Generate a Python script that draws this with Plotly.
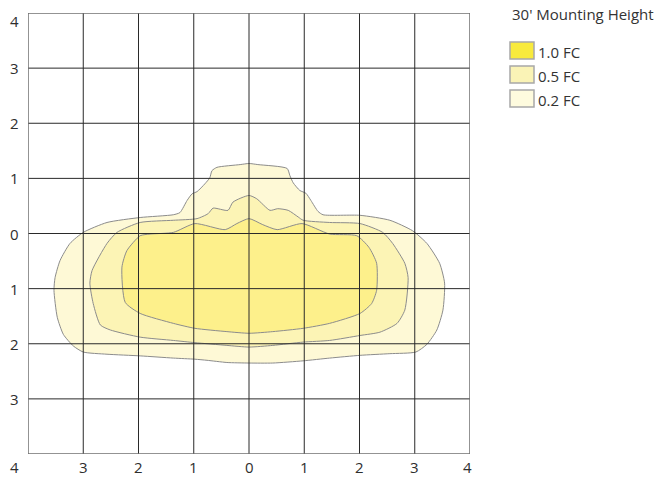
import plotly.graph_objects as go

# ---- data ----
grid_vals = [-4, -3, -2, -1, 0, 1, 2, 3, 4]
tick_text = ["4", "3", "2", "1", "0", "1", "2", "3", "4"]

levels = ["0.2 FC", "0.5 FC", "1.0 FC"]

outer_x = [0.0, 0.16, 0.69, 0.74, 0.80, 0.92, 1.03, 1.12, 1.25, 1.34, 2.01, 2.55, 2.96, 3.22, 3.45, 3.54,
           3.51, 3.40, 3.22, 3.02, 2.55, 2.01, 1.46, 0.98, 0.43, 0.0, -0.40, -0.76, -0.98, -1.37, -1.97,
           -2.57, -3.00, -3.18, -3.36, -3.47, -3.53, -3.51, -3.42, -3.24, -3.00, -2.57, -1.97, -1.37,
           -1.25, -1.12, -1.03, -0.94, -0.80, -0.71, -0.67, -0.58, -0.16, 0.0]
outer_y = [1.27, 1.25, 1.18, 1.05, 0.92, 0.78, 0.73, 0.60, 0.40, 0.34, 0.33, 0.24, 0.05, -0.18, -0.54, -0.90,
           -1.39, -1.75, -2.01, -2.15, -2.18, -2.21, -2.26, -2.31, -2.35, -2.35, -2.34, -2.30, -2.28, -2.26,
           -2.22, -2.19, -2.15, -2.04, -1.83, -1.52, -1.03, -0.80, -0.49, -0.18, 0.02, 0.20, 0.29, 0.34,
           0.38, 0.60, 0.72, 0.76, 0.90, 1.01, 1.14, 1.20, 1.25, 1.27]

mid_x = [0.0, 0.14, 0.38, 0.52, 0.71, 0.89, 0.98, 1.46, 2.01, 2.42, 2.60, 2.82, 2.88, 2.82, 2.68, 2.37,
         2.01, 1.46, 0.98, 0.43, 0.0, -0.40, -0.98, -1.37, -1.97, -2.51, -2.69, -2.82, -2.88, -2.84,
         -2.57, -2.39, -1.97, -1.37, -0.94, -0.74, -0.65, -0.38, -0.29, 0.0]
mid_y = [0.69, 0.63, 0.42, 0.45, 0.42, 0.30, 0.24, 0.20, 0.18, 0.02, -0.18, -0.54, -0.80, -1.39, -1.63,
         -1.79, -1.85, -1.94, -1.97, -2.03, -2.06, -2.03, -1.98, -1.94, -1.88, -1.75, -1.66, -1.27, -0.90,
         -0.67, -0.18, 0.02, 0.20, 0.24, 0.27, 0.36, 0.46, 0.42, 0.57, 0.69]

inner_x = [0.0, 0.25, 0.51, 0.96, 1.46, 1.95, 2.17, 2.31, 2.31, 2.22, 2.01, 1.46, 0.98, 0.43, 0.0, -0.40,
           -0.98, -1.37, -1.97, -2.24, -2.30, -2.21, -1.97, -1.79, -1.37, -0.98, -0.43, -0.22, 0.0]
inner_y = [0.27, 0.16, 0.07, 0.18, -0.01, -0.04, -0.25, -0.54, -1.03, -1.27, -1.45, -1.63, -1.72, -1.78,
           -1.81, -1.78, -1.72, -1.63, -1.45, -1.25, -0.61, -0.31, -0.04, -0.01, 0.02, 0.18, 0.07, 0.18, 0.27]

fill_colors = ["#FEF9D6", "#FCF4B5", "#FDF08B"]
swatch_colors = ["#F8EA3C", "#FAF3B6", "#FEFBDE"]
legend_labels = ["1.0 FC", "0.5 FC", "0.2 FC"]
title_text = "30' Mounting Height"

FONT = "Open Sans"
W, H = 666, 477
L, R, T, B = 28, 196, 13, 23
PW, PH = W - L - R, H - T - B


def px_x(p):  # page pixel -> paper x
    return (p - L) / PW


def px_y(p):  # page pixel -> paper y
    return (H - B - p) / PH


fig = go.Figure()
for xs, ys, col, name in zip([outer_x, mid_x, inner_x], [outer_y, mid_y, inner_y], fill_colors, levels):
    fig.add_trace(go.Scatter(x=xs, y=ys, mode="lines", fill="toself", fillcolor=col, name=name,
                             line=dict(color="#8c8c8c", width=1, shape="spline", smoothing=0.6),
                             hoverinfo="skip", showlegend=False))

shapes = []
for v in grid_vals[1:-1]:
    shapes.append(dict(type="line", xref="x", yref="y", x0=v, x1=v, y0=-4, y1=4,
                       line=dict(color="#2a2a2a", width=1), layer="above"))
    shapes.append(dict(type="line", xref="x", yref="y", x0=-4, x1=4, y0=v, y1=v,
                       line=dict(color="#2a2a2a", width=1), layer="above"))
shapes.append(dict(type="rect", xref="x", yref="y", x0=-4, x1=4, y0=-4, y1=4,
                   line=dict(color="#707070", width=1.5), layer="above"))

tick_font = dict(family=FONT, size=15, color="#2e2e2e")
annotations = []
for v, t in zip(grid_vals[1:], tick_text[1:]):
    annotations.append(dict(x=-4, y=v, xref="x", yref="y", text=t, showarrow=False,
                            xanchor="center", yanchor="middle", xshift=-14,
                            yshift=-8 if v == 4 else 0, font=tick_font))
for v, t in zip(grid_vals, tick_text):
    xs = -14 if v == -4 else (-3 if v == 4 else 0)
    annotations.append(dict(x=v, y=-4, xref="x", yref="y", text=t, showarrow=False,
                            xanchor="center", yanchor="middle", xshift=xs, yshift=-13,
                            font=tick_font))

leg_font = dict(family=FONT, size=15, color="#333333")
annotations.append(dict(x=px_x(510), y=px_y(14), xref="paper", yref="paper", text=title_text,
                        showarrow=False, xanchor="left", yanchor="middle", font=leg_font))
for i, (lab, col) in enumerate(zip(legend_labels, swatch_colors)):
    top = 42 + i * 24
    shapes.append(dict(type="rect", xref="paper", yref="paper", x0=px_x(510), x1=px_x(534),
                       y0=px_y(top + 17), y1=px_y(top), fillcolor=col,
                       line=dict(color="#a8a8a8", width=1.5), layer="above"))
    annotations.append(dict(x=px_x(536), y=px_y(top + 10), xref="paper", yref="paper", text=lab,
                            showarrow=False, xanchor="left", yanchor="middle", font=leg_font))

fig.update_layout(
    width=W, height=H, margin=dict(l=L, r=R, t=T, b=B),
    paper_bgcolor="white", plot_bgcolor="white",
    xaxis=dict(range=[-4, 4], showgrid=False, zeroline=False, showticklabels=False, ticks="", fixedrange=True),
    yaxis=dict(range=[-4, 4], showgrid=False, zeroline=False, showticklabels=False, ticks="", fixedrange=True),
    shapes=shapes, annotations=annotations, showlegend=False, hovermode=False,
)
fig.write_html("out.html", config={"displayModeBar": False, "staticPlot": True},
               post_script="document.body.style.margin='0';document.body.style.overflow='hidden';")
